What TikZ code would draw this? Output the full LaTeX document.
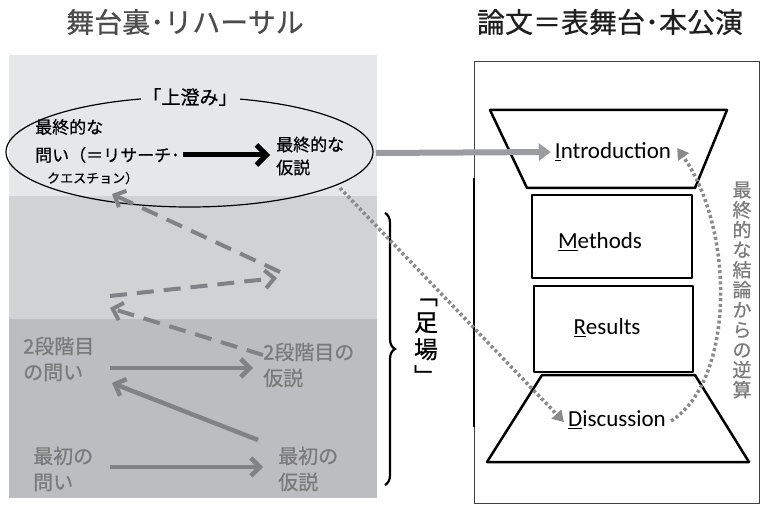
\documentclass[tikz,border=0pt]{standalone}
\usepackage{fontspec}
\setmainfont{Noto Sans CJK JP}[FakeBold=0.6]
\newfontfamily\lat{Carlito}
\usetikzlibrary{arrows.meta,decorations.pathreplacing}
\definecolor{bandA}{HTML}{E6E7E8}
\definecolor{bandB}{HTML}{D1D2D4}
\definecolor{bandC}{HTML}{BCBDC0}
\definecolor{arrgray}{HTML}{808285}
\definecolor{lightarr}{HTML}{9B9C9E}
\definecolor{dotgray}{HTML}{8A8A8A}
\definecolor{txtgray}{HTML}{7A7A7A}
\tikzset{
  fs/.style 2 args={font=\fontsize{#1}{#2}\selectfont},
  graytxt/.style={text=txtgray, align=left, anchor=west, inner sep=0pt, font=\fontsize{20}{26}\selectfont},
  solidarr/.style={draw=arrgray, line width=4.5pt, -{Straight Barb[length=9pt,width=18pt,line width=4.5pt]}},
  dasharr/.style={draw=arrgray, line width=4pt, dash pattern=on 17pt off 10pt, -{Straight Barb[length=9pt,width=18pt,line width=4pt]}},
  dotarr/.style={draw=dotgray, line width=3.5pt, dash pattern=on 3pt off 2.6pt, -{Triangle[length=11pt,width=13pt]}},
  shapebox/.style={draw=black, line width=2.5pt, line join=round},
  sec/.style={font=\lat\fontsize{23}{26}\selectfont, inner sep=0pt}
}
\begin{document}
\begin{tikzpicture}[x=1pt,y=-1pt]
\useasboundingbox (0,0) rectangle (761,505);
% titles
\node[fs={28}{34}, text=black!70] (t1) at (185,22) {舞台裏･リハーサル};
\node[fs={28}{34}, text=black!88] (t2) at (610,22) {論文＝表舞台･本公演};
% bands
\fill[bandA] (9,55) rectangle (377,196);
\fill[bandB] (9,196) rectangle (377,319);
\fill[bandC] (9,319) rectangle (377,498);
% ellipse
\draw[line width=1.2pt] (189.5,152) ellipse [x radius=183.5, y radius=55];
\node[fill=bandA, inner sep=2pt, fs={19}{23}] (top) at (190,97) {「上澄み」};
\node[anchor=west, inner sep=0pt, fs={17}{22}] (fq1) at (35,127) {最終的な};
\node[anchor=west, inner sep=0pt, fs={17}{22}] (fq2) at (35,155) {問い（＝リサーチ･};
\node[anchor=west, inner sep=0pt, fs={13}{16}] (fq3) at (47,178) {クエスチョン）};
\node[anchor=west, inner sep=0pt, fs={17}{23}, align=left] (fh) at (276,156) {最終的な\\仮説};
\coordinate (ba) at (183,155);
\coordinate (bb) at (270,155);
\draw[line width=5pt, -{Straight Barb[length=10pt,width=20pt,line width=5pt]}] (ba) -- (bb);
% lower texts
\node[graytxt] (q2) at (23,359) {2段階目\\の問い};
\node[graytxt] (h2) at (263,365) {2段階目の\\仮説};
\node[graytxt] (q1) at (33,469) {最初の\\問い};
\node[graytxt] (h1) at (278,469) {最初の\\仮説};
% solid arrows
\coordinate (s1a) at (110,368); \coordinate (s1b) at (253,368);
\coordinate (s2a) at (258,440); \coordinate (s2b) at (112,383);
\coordinate (s3a) at (110,467); \coordinate (s3b) at (263,467);
\draw[solidarr] (s1a) -- (s1b);
\draw[solidarr] (s2a) -- (s2b);
\draw[solidarr] (s3a) -- (s3b);
% dashed arrows
\coordinate (d1a) at (280,272); \coordinate (d1b) at (112,194);
\coordinate (d2a) at (110,296); \coordinate (d2b) at (277,278);
\coordinate (d3a) at (263,355); \coordinate (d3b) at (110,308);
\draw[dasharr] (d1a) -- (d1b);
\draw[dasharr] (d2a) -- (d2b);
\draw[dasharr] (d3a) -- (d3b);
% brace
\coordinate (brt) at (385,213); \coordinate (brb) at (385,485);
\draw[line width=2.2pt, decorate, decoration={brace, amplitude=10pt}] (brt) -- (brb);
\node[align=center, fs={24}{27}] (ashiba) at (426,342) {﹁\\足\\場\\﹂};
% right panel
\draw[line width=0.8pt, draw=black!75] (474,61) rectangle (759,503);
\draw[line width=2pt] (474,178) -- (474,427);
\draw[shapebox] (490,110) -- (727,110) -- (695,188) -- (527,188) -- cycle;
\draw[shapebox] (532,195) rectangle (692,278);
\draw[shapebox] (534,286) rectangle (693,372);
\draw[shapebox] (542,375) -- (695,375) -- (749,462) -- (487,462) -- cycle;
\node[sec] (intro) at (613,152) {\underline{I}ntroduction};
\node[sec] (meth) at (600,242) {\underline{M}ethods};
\node[sec] (res) at (607,328) {\underline{R}esults};
\node[sec] (disc) at (617,420) {\underline{D}iscussion};
% arrows between panels
\coordinate (ea) at (376,153);
\draw[draw=lightarr, line width=6pt, -{Triangle[length=12pt,width=17pt]}] (ea) -- ([xshift=-4pt]intro.west);
\coordinate (dt) at (340,188);
\draw[dotarr] (dt) -- ([xshift=-4pt,yshift=-2pt]disc.west);
\draw[dotarr] ([xshift=5pt,yshift=-1pt]disc.east) .. controls (735,380) and (735,230) .. ([xshift=6pt,yshift=4pt]intro.east);
\node[text=txtgray, align=center, fs={19}{20}] (rev) at (742,290) {最\\終\\的\\な\\結\\論\\か\\ら\\の\\逆\\算};
\end{tikzpicture}
\end{document}
